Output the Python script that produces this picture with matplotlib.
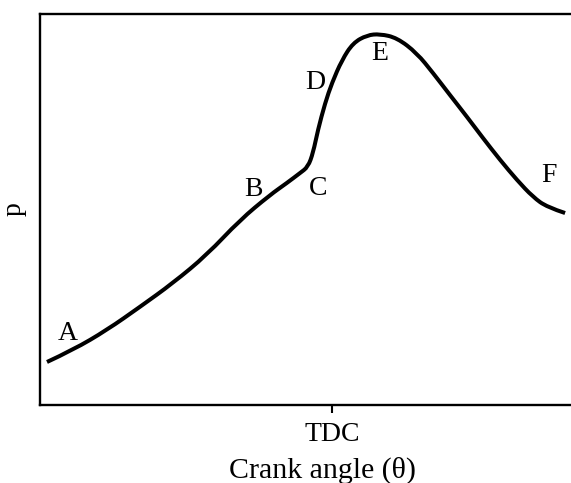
import matplotlib.pyplot as plt
from matplotlib.path import Path
from matplotlib.patches import PathPatch

plt.rcParams['font.family'] = ['Liberation Serif', 'DejaVu Serif']

# crank angle relative to TDC (deg) and cylinder pressure (arbitrary units)
theta = [-95, -86.3, -75, -64, -53, -41.7, -30.7, -20.7, -15, -10.7, -8, -6.3,
         -4.7, -2.3, 0, 3.3, 7, 11.7, 16, 21.7, 28.3, 33.7, 39.3, 45, 50.3, 56,
         61.7, 67, 71.7, 77.7]
pressure = [11.0, 14.1, 19.2, 25.1, 31.2, 38.4, 47.3, 53.7, 56.8, 59.3, 60.9,
            64.5, 70.3, 77.2, 82.4, 88.2, 92.6, 94.6, 94.9, 93.9, 90.0, 84.9,
            79.3, 73.7, 68.3, 62.7, 57.5, 53.2, 50.6, 49.1]

# point labels and where they sit
point_names = ['A', 'B', 'C', 'D', 'E', 'F']
point_theta = [-88, -26.3, -4.7, -5.7, 16, 72.3]
point_p = [18.4, 55, 55.5, 82.6, 90, 58.8]

fig = plt.figure(figsize=(5.71, 4.83), dpi=100)
ax = fig.add_axes([0.07005, 0.16149, 0.9457, 0.8095])

# smooth trace: quadratic segments with the read points as control points
pts = list(zip(theta, pressure))
verts = [pts[0]]
codes = [Path.MOVETO]
for i in range(1, len(pts) - 1):
    mid = ((pts[i][0] + pts[i + 1][0]) / 2, (pts[i][1] + pts[i + 1][1]) / 2)
    if i == len(pts) - 2:
        mid = pts[-1]
    verts += [pts[i], mid]
    codes += [Path.CURVE3, Path.CURVE3]
ax.add_patch(PathPatch(Path(verts, codes), facecolor='none',
                       edgecolor='black', lw=2.9, capstyle='butt'))

for name, x, y in zip(point_names, point_theta, point_p):
    ax.text(x, y, name, fontsize=20, ha='center', va='center')

ax.set_xlim(-97.33, 82.67)
ax.set_ylim(0, 100)
ax.set_xticks([0])
ax.set_xticklabels(['TDC'], fontsize=20)
ax.set_yticks([])
ax.tick_params(axis='x', direction='out', length=6, width=1.5, pad=6)
for s in ax.spines.values():
    s.set_linewidth(1.7)
ax.spines['right'].set_visible(False)

ax.set_xlabel('Crank angle (θ)', fontsize=21.5)
ax.xaxis.set_label_coords(0.524, -0.132)
ax.set_ylabel('p', fontsize=20, labelpad=10)

fig.savefig('out.png', dpi=100)
